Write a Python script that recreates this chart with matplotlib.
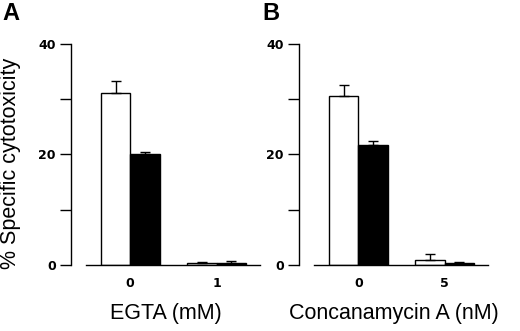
import numpy as np
import matplotlib
matplotlib.use('Agg')
import matplotlib.pyplot as plt

plt.rcParams['font.family'] = ['Liberation Sans', 'DejaVu Sans']

# Panel A: EGTA
egta_labels = ['0', '1']
egta_open = [31.2, 0.4]
egta_open_err = [2.1, 0.2]
egta_filled = [20.1, 0.3]
egta_filled_err = [0.3, 0.4]

# Panel B: Concanamycin A
cma_labels = ['0', '5']
cma_open = [30.5, 0.9]
cma_open_err = [2.1, 1.1]
cma_filled = [21.8, 0.3]
cma_filled_err = [0.7, 0.2]

fig = plt.figure(figsize=(5.2, 3.31), dpi=100)

bw = 0.34
tick_font = dict(family='DejaVu Sans', fontweight='bold', fontsize=9)


def panel(ax, labels, openv, opene, filledv, fillede, xlabel):
    x = np.arange(len(labels))
    ax.bar(x - bw / 2, openv, bw, color='white', edgecolor='black', linewidth=1.0,
           yerr=[np.zeros(len(opene)), opene], capsize=3.5,
           error_kw=dict(elinewidth=1.0, capthick=1.0, ecolor='black'), zorder=2)
    ax.bar(x + bw / 2, filledv, bw, color='black', edgecolor='black', linewidth=1.0,
           yerr=[np.zeros(len(fillede)), fillede], capsize=3.5,
           error_kw=dict(elinewidth=1.0, capthick=1.0, ecolor='black'), zorder=2)
    ax.set_xlim(-0.685, 1.5)
    ax.set_ylim(0, 40)
    ax.spines['top'].set_visible(False)
    ax.spines['right'].set_visible(False)
    ax.spines['bottom'].set_bounds(-0.51, 1.5)
    ax.spines['left'].set_linewidth(1.0)
    ax.spines['bottom'].set_linewidth(1.0)
    ax.spines['bottom'].set_zorder(3)
    ax.set_yticks([0, 10, 20, 30, 40])
    ax.set_yticklabels(['0', '', '20', '', '40'], **tick_font)
    ax.set_xticks(x)
    ax.set_xticklabels(labels, **tick_font)
    ax.tick_params(axis='x', length=0, pad=9)
    ax.tick_params(axis='y', length=8, width=1.0, direction='out', pad=3)
    ax.set_xlabel(xlabel, fontsize=15.5, labelpad=9)


axA = fig.add_axes([0.1365, 0.1994, 0.3635, 0.6677])
panel(axA, egta_labels, egta_open, egta_open_err, egta_filled, egta_filled_err, 'EGTA (mM)')
axA.set_ylabel('% Specific cytotoxicity', fontsize=15.5)
axA.yaxis.set_label_coords(-0.265, 0.46)

axB = fig.add_axes([0.575, 0.1994, 0.3635, 0.6677])
panel(axB, cma_labels, cma_open, cma_open_err, cma_filled, cma_filled_err, 'Concanamycin A (nM)')

fig.text(0.005, 0.995, 'A', fontsize=17, fontweight='bold', ha='left', va='top')
fig.text(0.505, 0.995, 'B', fontsize=17, fontweight='bold', ha='left', va='top')

fig.savefig('out.png', dpi=100)
